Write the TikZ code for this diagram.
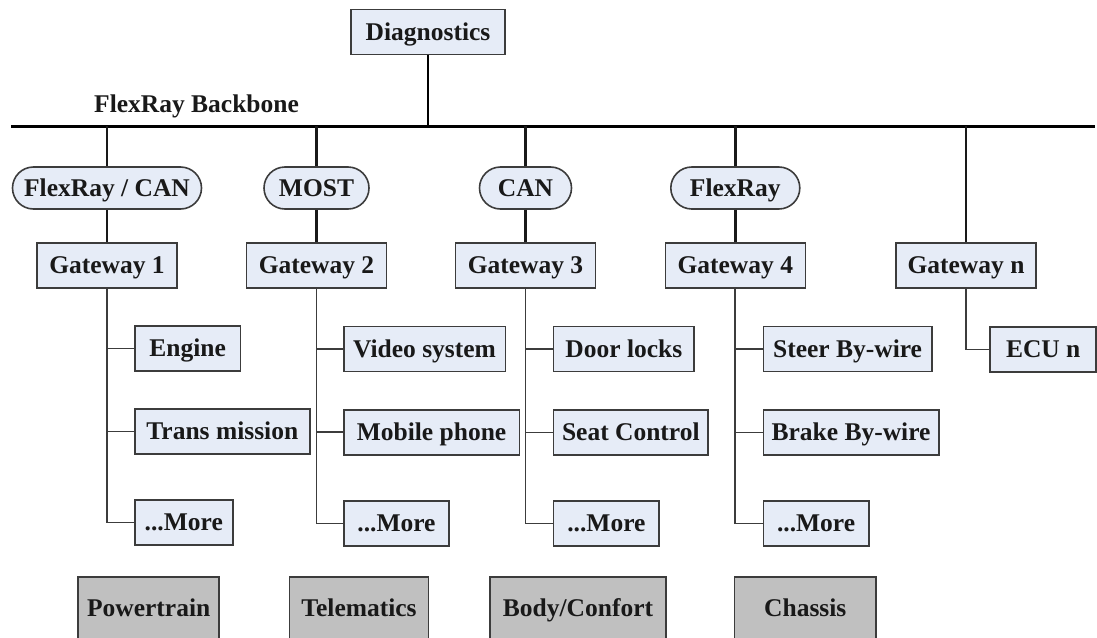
\documentclass[tikz,border=0pt]{standalone}
\usepackage{fontspec}
\setmainfont{Liberation Serif}
\definecolor{boxfill}{RGB}{230,236,247}
\definecolor{grayfill}{RGB}{192,192,192}
\definecolor{edge}{RGB}{60,60,60}
\definecolor{ink}{RGB}{25,25,25}
\begin{document}
\begin{tikzpicture}[x=1pt,y=-1pt,
  font=\fontsize{25.5}{29}\selectfont\bfseries,
  txt/.style={text=ink, text height=16.6pt, text depth=0pt},
  box/.style={txt, draw=edge, line width=1.6pt, fill=boxfill, inner sep=0pt, minimum height=45pt},
  pill/.style={box, rounded corners=21pt, minimum height=42pt},
  grp/.style={txt, draw=edge, line width=1.6pt, fill=grayfill, inner sep=0pt, minimum height=62pt},
  bus/.style={line width=3pt, draw=black},
  drop/.style={line width=2.6pt, draw=black!90},
  branch/.style={line width=1.8pt, draw=edge}]
\useasboundingbox (0,0) rectangle (1097,637);
\clip (0,0) rectangle (1097,637);
% backbone
\coordinate (bbL) at (11,126);
\coordinate (bbR) at (1095,126);
\node[box, minimum width=154pt] (diag) at (428,32) {Diagnostics};
\node[txt, anchor=west, inner sep=0pt] (bbl) at (94,104) {FlexRay Backbone};
% pills
\node[pill, minimum width=189pt] (p1) at (107,188) {FlexRay / CAN};
\node[pill, minimum width=105pt] (p2) at (316.5,188) {MOST};
\node[pill, minimum width=92pt] (p3) at (525.5,188) {CAN};
\node[pill, minimum width=129pt] (p4) at (735.3,188) {FlexRay};
% gateways
\node[box, minimum width=140pt] (g1) at (107,265.5) {Gateway 1};
\node[box, minimum width=140pt] (g2) at (316.5,265.5) {Gateway 2};
\node[box, minimum width=140pt] (g3) at (525.5,265.5) {Gateway 3};
\node[box, minimum width=140pt] (g4) at (735.3,265.5) {Gateway 4};
\node[box, minimum width=140pt] (gn) at (966,265.5) {Gateway n};
% ECUs
\node[box, anchor=west, minimum width=105.6pt] (e1) at (134,348.5) {Engine};
\node[box, anchor=west, minimum width=175pt] (t1) at (134,431.5) {Trans mission};
\node[box, anchor=west, minimum width=98pt] (m1) at (134,522.5) {...More};
\node[box, anchor=west, minimum width=161.5pt] (v2) at (343,349) {Video system};
\node[box, anchor=west, minimum width=175.5pt] (mp2) at (343,432.3) {Mobile phone};
\node[box, anchor=west, minimum width=105.3pt] (m2) at (343,523.5) {...More};
\node[box, anchor=west, minimum width=140.5pt] (d3) at (552.8,349) {Door locks};
\node[box, anchor=west, minimum width=154.5pt] (s3) at (552.8,432.5) {Seat Control};
\node[box, anchor=west, minimum width=105.6pt] (m3) at (552.8,523.5) {...More};
\node[box, anchor=west, minimum width=168.5pt] (st4) at (762.5,349) {Steer By-wire};
\node[box, anchor=west, minimum width=175.5pt] (b4) at (762.5,432.5) {Brake By-wire};
\node[box, anchor=west, minimum width=105.6pt] (m4) at (762.5,523.5) {...More};
\node[box, anchor=west, minimum width=106pt] (ecu) at (989.4,349.5) {ECU n};
% domains
\node[grp, minimum width=141pt] (pw) at (148.7,608) {Powertrain};
\node[grp, minimum width=139pt] (te) at (359,608) {Telematics};
\node[grp, minimum width=175.7pt] (bc) at (578,608) {Body/Confort};
\node[grp, minimum width=141.4pt] (ch) at (805.3,608) {Chassis};
% connectors
\draw[bus] (bbL) -- (bbR);
\draw[line width=2pt] (diag.south) -- (diag.south |- bbL);
\foreach \p/\g in {p1/g1,p2/g2,p3/g3,p4/g4}{
  \draw[drop] (\p.north |- bbL) -- (\p.north);
  \draw[drop] (\p.south) -- (\g.north);
}
\draw[drop] (gn.north |- bbL) -- (gn.north);
\draw[branch] (g1.south) |- (m1.west);
\draw[branch] (g1.south |- e1.west) -- (e1.west);
\draw[branch] (g1.south |- t1.west) -- (t1.west);
\draw[branch] (g2.south) |- (m2.west);
\draw[branch] (g2.south |- v2.west) -- (v2.west);
\draw[branch] (g2.south |- mp2.west) -- (mp2.west);
\draw[branch] (g3.south) |- (m3.west);
\draw[branch] (g3.south |- d3.west) -- (d3.west);
\draw[branch] (g3.south |- s3.west) -- (s3.west);
\draw[branch] (g4.south) |- (m4.west);
\draw[branch] (g4.south |- st4.west) -- (st4.west);
\draw[branch] (g4.south |- b4.west) -- (b4.west);
\draw[branch] (gn.south) |- (ecu.west);
\end{tikzpicture}
\end{document}
